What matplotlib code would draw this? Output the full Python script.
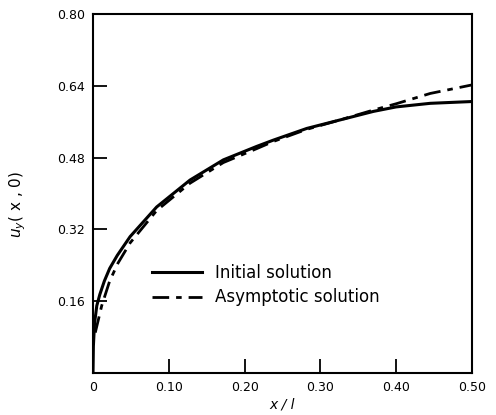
import matplotlib
matplotlib.use("Agg")
import matplotlib.pyplot as plt

# initial solution
x_init = [0.0, 0.0005, 0.002, 0.005, 0.009, 0.015, 0.022, 0.032, 0.049, 0.084,
          0.128, 0.172, 0.216, 0.238, 0.282, 0.326, 0.370, 0.40, 0.445, 0.50]
u_init = [0.0, 0.06, 0.11, 0.15, 0.175, 0.205, 0.233, 0.262, 0.304, 0.370,
          0.430, 0.475, 0.505, 0.519, 0.545, 0.564, 0.583, 0.593, 0.601, 0.605]

# asymptotic solution
x_asym = [0.003, 0.0115, 0.022, 0.033, 0.049, 0.084, 0.128, 0.172, 0.216,
          0.238, 0.282, 0.326, 0.370, 0.40, 0.445, 0.50]
u_asym = [0.09, 0.15, 0.205, 0.245, 0.29, 0.362, 0.423, 0.469, 0.500,
          0.516, 0.543, 0.564, 0.586, 0.600, 0.623, 0.642]

xticks = [0, 0.10, 0.20, 0.30, 0.40, 0.50]
xlabels = ["0", "0.10", "0.20", "0.30", "0.40", "0.50"]
yticks = [0.16, 0.32, 0.48, 0.64, 0.80]
ylabels = ["0.16", "0.32", "0.48", "0.64", "0.80"]

fig = plt.figure(figsize=(4.96, 4.15), dpi=100)
ax = fig.add_axes([0.1875, 0.1012, 0.764, 0.865])

ax.plot(x_init, u_init, color="black", lw=2.2, label="Initial solution")
ax.plot(x_asym, u_asym, color="black", lw=2.0, dashes=(6, 2.5, 2, 2.5),
        label="Asymptotic solution")

ax.set_xlim(0, 0.5)
ax.set_ylim(0, 0.8)
ax.set_xticks(xticks)
ax.set_xticklabels(xlabels)
ax.set_yticks(yticks)
ax.set_yticklabels(ylabels)
ax.tick_params(direction="in", length=10, width=1.3, labelsize=9, pad=6)
for s in ax.spines.values():
    s.set_linewidth(1.5)

ax.set_xlabel("x / l", style="italic", fontsize=10, labelpad=2)
ax.set_ylabel("$u_y$( x , 0)", fontsize=11)
ax.yaxis.set_label_coords(-0.172, 0.47)

ax.legend(loc="center left", bbox_to_anchor=(0.115, 0.245), frameon=False,
          fontsize=12, handlelength=3.0, labelspacing=0.4, handletextpad=0.8)

fig.savefig("out.png", dpi=100)
